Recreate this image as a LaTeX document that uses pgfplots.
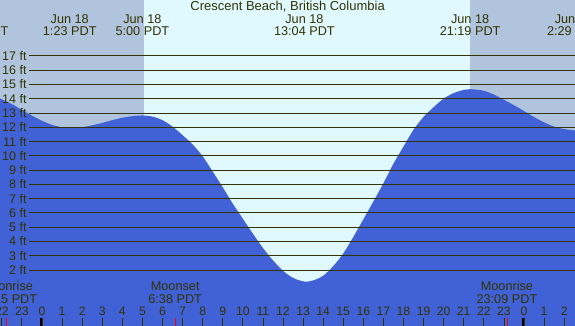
\documentclass[border=0pt]{standalone}
\usepackage{fontspec}
\setmainfont{Liberation Sans}
\usepackage{pgfplots}
\pgfplotsset{compat=1.18}
\definecolor{daycol}{RGB}{224,248,255}
\definecolor{nightcol}{RGB}{176,196,222}
\definecolor{water}{RGB}{65,97,214}
\definecolor{txt}{RGB}{51,51,0}
\definecolor{gridc}{RGB}{51,51,0}
\newcommand{\lf}{\fontsize{12.7bp}{13bp}\selectfont}
\begin{document}
\begin{tikzpicture}
\begin{axis}[
  width=575bp, height=326bp, scale only axis,
  xmin=-2.09, xmax=26.54, ymin=-1.92, ymax=20.92,
  axis background/.style={fill=daycol},
  axis on top=true,
  axis line style={draw=none},
  xtick pos=left, ytick=\empty,
  tick align=inside, major tick length=8bp,
  xtick={-2,...,26},
  xticklabels={22,23,0,1,2,3,4,5,6,7,8,9,10,11,12,13,14,15,16,17,18,19,20,21,22,23,0,1,2},
  xticklabel style={anchor=base, yshift=10.3bp, font=\fontsize{12.2bp}{13bp}\selectfont, text=txt, inner sep=0pt},
  x tick style={color=txt, line width=0.8bp},
  clip=true,
]
% night shading
\addplot[fill=nightcol, draw=none] coordinates {(-2.2,-2) (5.08,-2) (5.08,21) (-2.2,21)};
\addplot[fill=nightcol, draw=none] coordinates {(21.31,-2) (26.6,-2) (26.6,21) (21.31,21)};
% tide
\addplot[fill=water, draw=none, smooth] coordinates {
(-2.2,14.09) (-1.5,13.63) (-1.0,13.22) (-0.5,12.82) (0.0,12.46) (0.5,12.17) (1.0,12.0)
(1.39,11.95) (2.0,12.01) (2.5,12.14) (3.0,12.31) (3.5,12.5) (4.0,12.67) (4.5,12.78)
(5.03,12.83) (5.5,12.75) (6.0,12.5) (6.5,12.05) (7.0,11.45) (7.5,10.8) (8.0,9.97)
(8.5,8.9) (9.0,7.8) (9.5,6.65) (10.0,5.6) (10.5,4.55) (11.0,3.55) (11.5,2.68)
(12.0,1.95) (12.5,1.45) (13.07,1.19) (13.5,1.27) (14.0,1.6) (14.5,2.27) (15.0,3.16)
(15.5,4.31) (16.0,5.55) (16.5,6.8) (17.0,8.08) (17.5,9.45) (18.0,10.65) (18.5,11.83)
(19.0,12.73) (19.5,13.41) (20.0,14.01) (20.5,14.4) (21.0,14.62) (21.32,14.67)
(21.5,14.66) (22.0,14.56) (22.5,14.3) (23.0,13.93) (23.5,13.55) (24.0,13.14)
(24.5,12.72) (25.0,12.35) (25.5,12.05) (26.0,11.88) (26.6,11.77)
} \closedcycle;
\addplot[fill=water, draw=none] coordinates {(-2.2,-2.1) (26.6,-2.1) (26.6,1.0) (-2.2,1.0)};
% grid lines and labels
\pgfplotsinvokeforeach{2,...,17}{
  \addplot[gridc, line width=1bp] coordinates {(-0.647,#1) (26.6,#1)};
  \node[anchor=east, inner sep=0pt, text=txt, font=\fontsize{12.5bp}{13bp}\selectfont] at (axis cs:-0.76,#1) {#1 ft};
}
% midnight and moon ticks
\addplot[black, line width=3bp] coordinates {(0,-1.92) (0,-1.36)};
\addplot[black, line width=3bp] coordinates {(24,-1.92) (24,-1.36)};
\addplot[red, line width=0.8bp] coordinates {(-1.79,-1.92) (-1.79,-1.36)};
\addplot[red, line width=0.8bp] coordinates {(6.633,-1.92) (6.633,-1.36)};
\addplot[red, line width=0.8bp] coordinates {(23.15,-1.92) (23.15,-1.36)};
% title
\node[anchor=base, text=txt, font=\fontsize{13bp}{14bp}\selectfont] at (axis cs:12.23,20.15) {Crescent Beach, British Columbia};
% top labels
\node[anchor=base, text=txt, font=\lf] at (axis cs:-3.18,19.28) {Jun 17};
\node[anchor=base, text=txt, font=\lf] at (axis cs:-3.18,18.42) {20:43 PDT};
\node[anchor=base, text=txt, font=\lf] at (axis cs:1.383,19.28) {Jun 18};
\node[anchor=base, text=txt, font=\lf] at (axis cs:1.383,18.42) {1:23 PDT};
\node[anchor=base, text=txt, font=\lf] at (axis cs:5.0,19.28) {Jun 18};
\node[anchor=base, text=txt, font=\lf] at (axis cs:5.0,18.42) {5:00 PDT};
\node[anchor=base, text=txt, font=\lf] at (axis cs:13.067,19.28) {Jun 18};
\node[anchor=base, text=txt, font=\lf] at (axis cs:13.067,18.42) {13:04 PDT};
\node[anchor=base, text=txt, font=\lf] at (axis cs:21.317,19.28) {Jun 18};
\node[anchor=base, text=txt, font=\lf] at (axis cs:21.317,18.42) {21:19 PDT};
\node[anchor=base, text=txt, font=\lf] at (axis cs:26.483,19.28) {Jun 19};
\node[anchor=base, text=txt, font=\lf] at (axis cs:26.483,18.42) {2:29 PDT};
% bottom labels
\node[anchor=base, text=txt, font=\lf] at (axis cs:-1.75,0.553) {Moonrise};
\node[anchor=base, text=txt, font=\lf] at (axis cs:-1.75,-0.33) {22:15 PDT};
\node[anchor=base, text=txt, font=\lf] at (axis cs:6.633,0.553) {Moonset};
\node[anchor=base, text=txt, font=\lf] at (axis cs:6.633,-0.33) {6:38 PDT};
\node[anchor=base, text=txt, font=\lf] at (axis cs:23.15,0.553) {Moonrise};
\node[anchor=base, text=txt, font=\lf] at (axis cs:23.15,-0.33) {23:09 PDT};
\end{axis}
\pgfresetboundingbox
\useasboundingbox (current axis.south west) rectangle (current axis.north east);
\end{tikzpicture}
\end{document}
